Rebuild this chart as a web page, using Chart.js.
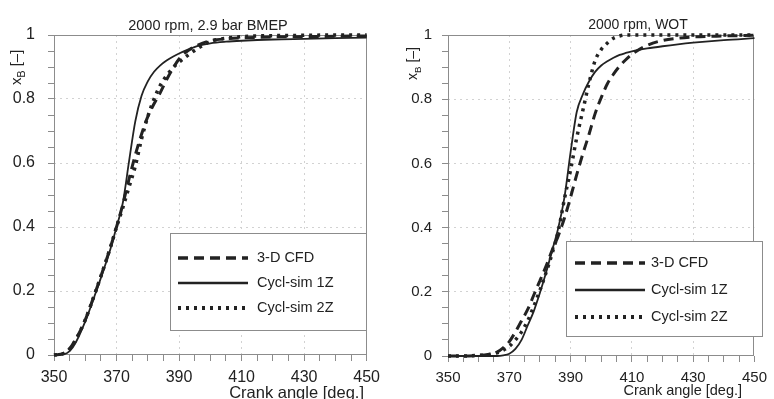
<!DOCTYPE html>
<html>
<head>
<meta charset="utf-8">
<script src="https://cdn.jsdelivr.net/npm/chart.js@4.4.1/dist/chart.umd.min.js"></script>
<style>
    body { margin: 0; background: #fff; }
    .panel { position: absolute; top: 0; width: 387px; height: 399px; }
</style>
</head>
<body>
<div class="panel" style="left:0"><canvas id="leftChart" width="387" height="399"></canvas></div>
<div class="panel" style="left:387px"><canvas id="rightChart" width="387" height="399"></canvas></div>
<script>
/* ── Data ── */
const seriesNames = ['3-D CFD', 'Cycl-sim 1Z', 'Cycl-sim 2Z'];
const xTickLabels = [350, 370, 390, 410, 430, 450];
const yTickLabels = [0, 0.2, 0.4, 0.6, 0.8, 1];

// 2000 rpm, 2.9 bar BMEP
const leftAngles = [350, 353, 355, 357, 360, 363, 366, 368, 370, 372, 374, 376, 378, 380,
    382, 384, 386, 388, 390, 393, 396, 400, 405, 410, 420, 430, 440, 450];
const leftCfd = [0, 0.005, 0.02, 0.05, 0.11, 0.19, 0.275, 0.335, 0.40, 0.47, 0.55, 0.625, 0.69, 0.745,
    0.785, 0.82, 0.86, 0.895, 0.925, 0.952, 0.968, 0.982, 0.988, 0.991, 0.994, 0.995, 0.996, 0.997];
const left1Z = [0, 0.002, 0.012, 0.04, 0.105, 0.185, 0.27, 0.33, 0.40, 0.475, 0.605, 0.73, 0.81, 0.855,
    0.885, 0.905, 0.92, 0.932, 0.942, 0.955, 0.966, 0.974, 0.979, 0.982, 0.986, 0.988, 0.99, 0.992];
const left2Z = [0, 0.004, 0.018, 0.048, 0.11, 0.19, 0.275, 0.335, 0.40, 0.46, 0.525, 0.59, 0.675, 0.745,
    0.8, 0.843, 0.873, 0.897, 0.915, 0.938, 0.958, 0.98, 0.99, 0.995, 0.998, 0.999, 1, 1];

// 2000 rpm, WOT
const rightAngles = [350, 355, 360, 363, 366, 368, 370, 372, 374, 376, 378, 380, 382, 384, 386, 388,
    390, 392, 394, 396, 398, 400, 402, 404, 406, 408, 410, 415, 420, 425, 430, 440, 450];
const rightCfd = [0, 0, 0.002, 0.005, 0.012, 0.025, 0.045, 0.075, 0.11, 0.145, 0.19, 0.235, 0.28, 0.33, 0.375, 0.43,
    0.495, 0.565, 0.63, 0.69, 0.755, 0.805, 0.848, 0.878, 0.903, 0.923, 0.94, 0.968, 0.983, 0.99, 0.994, 0.997, 0.999];
const right1Z = [0, 0, 0, 0, 0, 0.002, 0.007, 0.022, 0.05, 0.095, 0.14, 0.197, 0.26, 0.33, 0.40, 0.495,
    0.635, 0.76, 0.815, 0.855, 0.885, 0.905, 0.918, 0.929, 0.938, 0.944, 0.949, 0.958, 0.965, 0.971, 0.976, 0.984, 0.99];
const right2Z = [0, 0, 0.002, 0.004, 0.01, 0.018, 0.03, 0.05, 0.075, 0.11, 0.155, 0.205, 0.26, 0.32, 0.39, 0.49,
    0.58, 0.68, 0.765, 0.85, 0.92, 0.955, 0.975, 0.99, 0.997, 1, 1, 1, 1, 1, 1, 1, 1];

const FONT = "'Liberation Sans', Arial, Helvetica, sans-serif";
const FRAME = '#8c8c8c';
const INK = '#222';

// ── Helpers ──
function toPoints(angles, values) {
    return angles.map((a, i) => ({ x: a, y: values[i] }));
}

function isMajor(list, v) {
    return list.some(t => Math.abs(t - v) < 1e-6);
}

function buildDatasets(angles, cfd, oneZone, twoZone) {
    const common = { pointRadius: 0, fill: false, cubicInterpolationMode: 'monotone', clip: false, borderColor: INK };
    return [
        { ...common, label: seriesNames[0], data: toPoints(angles, cfd), borderWidth: 3, borderDash: [10, 6] },
        { ...common, label: seriesNames[1], data: toPoints(angles, oneZone), borderWidth: 1.8 },
        { ...common, label: seriesNames[2], data: toPoints(angles, twoZone), borderWidth: 3.5, borderDash: [3, 5] },
    ];
}

// ── Frame, titles and legend box ──
const panelDecor = {
    id: 'panelDecor',
    beforeDatasetsDraw(chart) {
        const { ctx, chartArea: a } = chart;
        ctx.save();
        ctx.strokeStyle = FRAME;
        ctx.lineWidth = 1;
        ctx.strokeRect(Math.round(a.left) + 0.5, Math.round(a.top) + 0.5,
            Math.round(a.right - a.left) - 1, Math.round(a.bottom - a.top) - 1);
        ctx.restore();
    },
    afterDraw(chart, args, o) {
        const { ctx } = chart;

        ctx.save();
        ctx.fillStyle = INK;
        ctx.textBaseline = 'alphabetic';
        ctx.font = `${o.titleSize}px ${FONT}`;
        ctx.textAlign = 'center';
        ctx.fillText(o.title, o.titleX, o.titleY);

        ctx.font = `${o.xTitleSize}px ${FONT}`;
        ctx.textAlign = 'right';
        ctx.fillText('Crank angle [deg.]', o.xTitleX, o.xTitleY);
        ctx.restore();

        // y title: x with subscript B, rotated
        ctx.save();
        ctx.fillStyle = INK;
        ctx.translate(o.yTitleX, o.yTitleY);
        ctx.rotate(-Math.PI / 2);
        ctx.textAlign = 'left';
        ctx.textBaseline = 'alphabetic';
        const s = o.yTitleSize;
        ctx.font = `${s}px ${FONT}`;
        ctx.fillText('x', 0, 0);
        let w = ctx.measureText('x').width;
        ctx.font = `${s * 0.7}px ${FONT}`;
        ctx.fillText('B', w, s * 0.3);
        w += ctx.measureText('B').width;
        ctx.font = `${s}px ${FONT}`;
        ctx.fillText(' [\u2013]', w, 0);
        ctx.restore();

        // legend box
        const L = o.legend;
        ctx.save();
        ctx.fillStyle = '#fff';
        ctx.strokeStyle = FRAME;
        ctx.lineWidth = 1;
        ctx.fillRect(L.left, L.top, L.right - L.left, L.bottom - L.top);
        ctx.strokeRect(L.left + 0.5, L.top + 0.5, L.right - L.left - 1, L.bottom - L.top - 1);
        chart.data.datasets.forEach((ds, i) => {
            const y = L.rows[i];
            ctx.strokeStyle = ds.borderColor;
            ctx.lineWidth = ds.borderWidth + 0.5;
            ctx.setLineDash(ds.borderDash || []);
            ctx.beginPath();
            ctx.moveTo(L.sampleFrom, y);
            ctx.lineTo(L.sampleTo, y);
            ctx.stroke();
            ctx.setLineDash([]);
            ctx.fillStyle = INK;
            ctx.font = `14.5px ${FONT}`;
            ctx.textAlign = 'left';
            ctx.textBaseline = 'middle';
            ctx.fillText(ds.label, L.textX, y);
        });
        ctx.restore();
    }
};

function buildOptions(p) {
    return {
        responsive: false,
        animation: false,
        events: [],
        layout: { padding: { left: 0, top: 35, right: p.padRight, bottom: 0 } },
        plugins: {
            legend: { display: false },
            tooltip: { enabled: false },
            panelDecor: p.decor,
        },
        scales: {
            x: {
                type: 'linear',
                min: 350,
                max: 450,
                afterFit: s => { s.height = p.xHeight; },
                border: { display: false, dash: [2, 4] },
                grid: {
                    color: c => (isMajor(xTickLabels, c.tick.value) && c.tick.value > 350 && c.tick.value < 450) ? '#d2d2d2' : 'rgba(0,0,0,0)',
                    tickColor: FRAME,
                    tickLength: 6,
                },
                ticks: {
                    stepSize: 5,
                    autoSkip: false,
                    maxRotation: 0,
                    padding: p.xPad,
                    color: INK,
                    font: { family: FONT, size: p.tickSize },
                    callback: v => isMajor(xTickLabels, v) ? String(v) : '',
                },
            },
            y: {
                min: 0,
                max: 1,
                afterFit: s => { s.width = p.yWidth; },
                border: { display: false, dash: [2, 4] },
                grid: {
                    color: c => (isMajor(yTickLabels, c.tick.value) && c.tick.value > 0.01 && c.tick.value < 0.99) ? '#d2d2d2' : 'rgba(0,0,0,0)',
                    tickColor: FRAME,
                    tickLength: 6,
                },
                ticks: {
                    stepSize: 0.05,
                    autoSkip: false,
                    padding: p.yPad,
                    color: INK,
                    font: { family: FONT, size: p.tickSize },
                    callback: v => {
                        if (!isMajor(yTickLabels, v)) return '';
                        if (Math.abs(v) < 1e-6) return '0';
                        if (Math.abs(v - 1) < 1e-6) return '1';
                        return v.toFixed(1);
                    },
                },
            },
        },
    };
}

// ── Charts ──
new Chart(document.getElementById('leftChart'), {
    type: 'line',
    data: { datasets: buildDatasets(leftAngles, leftCfd, left1Z, left2Z) },
    options: buildOptions({
        padRight: 20, xHeight: 44, yWidth: 54, xPad: 7, yPad: 13, tickSize: 16,
        decor: {
            title: '2000 rpm, 2.9 bar BMEP', titleSize: 14.5, titleX: 208, titleY: 30,
            xTitleSize: 16.5, xTitleX: 364, xTitleY: 398,
            yTitleSize: 15, yTitleX: 20.5, yTitleY: 85,
            legend: { left: 170, top: 233, right: 367, bottom: 331,
                sampleFrom: 178, sampleTo: 248, textX: 257, rows: [258, 283, 308] },
        },
    }),
    plugins: [panelDecor],
});

new Chart(document.getElementById('rightChart'), {
    type: 'line',
    data: { datasets: buildDatasets(rightAngles, rightCfd, right1Z, right2Z) },
    options: buildOptions({
        padRight: 11, xHeight: 43, yWidth: 61, xPad: 7, yPad: 10, tickSize: 15,
        decor: {
            title: '2000 rpm, WOT', titleSize: 14, titleX: 251, titleY: 29,
            xTitleSize: 14.5, xTitleX: 355, xTitleY: 395,
            yTitleSize: 14, yTitleX: 29.5, yTitleY: 80,
            legend: { left: 179, top: 241, right: 376, bottom: 337,
                sampleFrom: 188, sampleTo: 258, textX: 264, rows: [263, 290, 317] },
        },
    }),
    plugins: [panelDecor],
});
</script>
</body>
</html>
